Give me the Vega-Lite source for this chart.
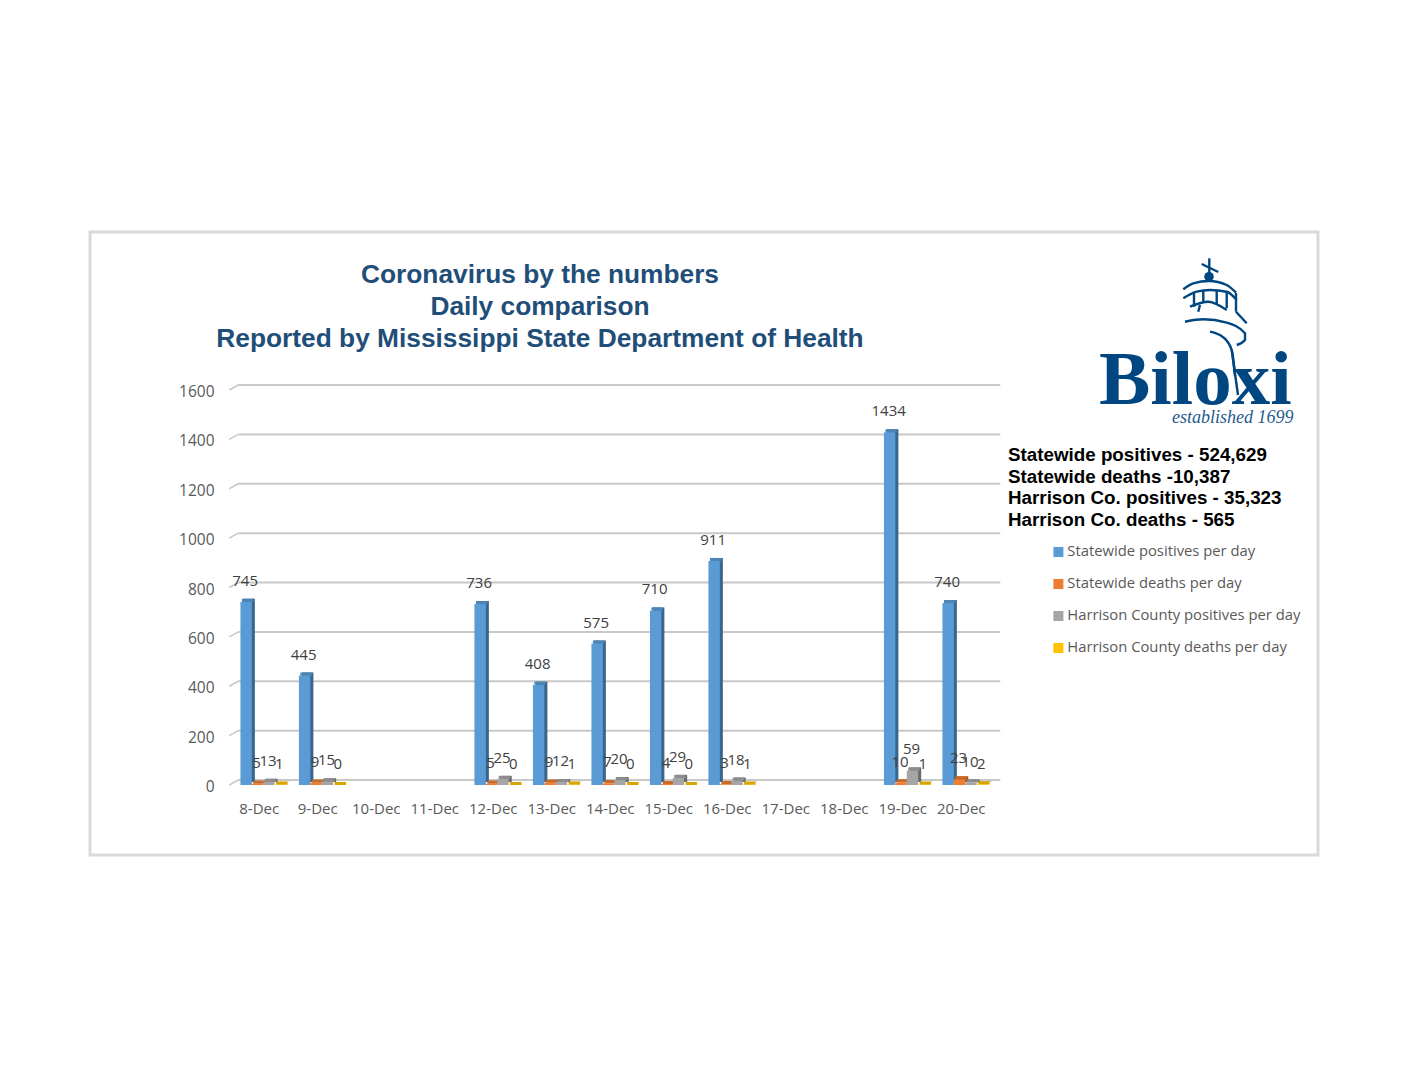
{
"$schema":"https://vega.github.io/schema/vega-lite/v6.json",
"width":1228,"height":623,
"autosize":"none",
"padding":{"left":90,"top":232,"right":90,"bottom":233},
"background":"white",
"config":{"view":{"stroke":"#D9D9D9","strokeWidth":3,"fill":"white"}},
"title":{"text":["Coronavirus by the numbers","Daily comparison","Reported by Mississippi State Department of Health"],"anchor":"middle","frame":"group","dx":-164,"offset":-120,"font":"Liberation Sans","fontSize":26.3,"fontWeight":"bold","color":"#1F4E79","lineHeight":32},
"datasets":{
"bars":[
{"date":"8-Dec","series":"Statewide positives per day","v":745},{"date":"8-Dec","series":"Statewide deaths per day","v":5},{"date":"8-Dec","series":"Harrison County positives per day","v":13},{"date":"8-Dec","series":"Harrison County deaths per day","v":1},
{"date":"9-Dec","series":"Statewide positives per day","v":445},{"date":"9-Dec","series":"Statewide deaths per day","v":9},{"date":"9-Dec","series":"Harrison County positives per day","v":15},{"date":"9-Dec","series":"Harrison County deaths per day","v":0},
{"date":"12-Dec","series":"Statewide positives per day","v":736},{"date":"12-Dec","series":"Statewide deaths per day","v":5},{"date":"12-Dec","series":"Harrison County positives per day","v":25},{"date":"12-Dec","series":"Harrison County deaths per day","v":0},
{"date":"13-Dec","series":"Statewide positives per day","v":408},{"date":"13-Dec","series":"Statewide deaths per day","v":9},{"date":"13-Dec","series":"Harrison County positives per day","v":12},{"date":"13-Dec","series":"Harrison County deaths per day","v":1},
{"date":"14-Dec","series":"Statewide positives per day","v":575},{"date":"14-Dec","series":"Statewide deaths per day","v":7},{"date":"14-Dec","series":"Harrison County positives per day","v":20},{"date":"14-Dec","series":"Harrison County deaths per day","v":0},
{"date":"15-Dec","series":"Statewide positives per day","v":710},{"date":"15-Dec","series":"Statewide deaths per day","v":4},{"date":"15-Dec","series":"Harrison County positives per day","v":29},{"date":"15-Dec","series":"Harrison County deaths per day","v":0},
{"date":"16-Dec","series":"Statewide positives per day","v":911},{"date":"16-Dec","series":"Statewide deaths per day","v":3},{"date":"16-Dec","series":"Harrison County positives per day","v":18},{"date":"16-Dec","series":"Harrison County deaths per day","v":1},
{"date":"19-Dec","series":"Statewide positives per day","v":1434},{"date":"19-Dec","series":"Statewide deaths per day","v":10},{"date":"19-Dec","series":"Harrison County positives per day","v":59},{"date":"19-Dec","series":"Harrison County deaths per day","v":1},
{"date":"20-Dec","series":"Statewide positives per day","v":740},{"date":"20-Dec","series":"Statewide deaths per day","v":23},{"date":"20-Dec","series":"Harrison County positives per day","v":10},{"date":"20-Dec","series":"Harrison County deaths per day","v":2}
],
"grid":[{"g":0,"a":"8-Dec","b":"20-Dec"},{"g":200,"a":"8-Dec","b":"20-Dec"},{"g":400,"a":"8-Dec","b":"20-Dec"},{"g":600,"a":"8-Dec","b":"20-Dec"},{"g":800,"a":"8-Dec","b":"20-Dec"},{"g":1000,"a":"8-Dec","b":"20-Dec"},{"g":1200,"a":"8-Dec","b":"20-Dec"},{"g":1400,"a":"8-Dec","b":"20-Dec"},{"g":1600,"a":"8-Dec","b":"20-Dec"}],
"logoLines":[
{"s":"cross","i":0,"lx":1209.3,"ly":258.3},{"s":"cross","i":1,"lx":1209.3,"ly":275},
{"s":"arrow","i":0,"lx":1201.7,"ly":264},{"s":"arrow","i":1,"lx":1218.3,"ly":272},
{"s":"dome","i":0,"lx":1183.3,"ly":289.3},{"s":"dome","i":1,"lx":1193.3,"ly":283.3},{"s":"dome","i":2,"lx":1209,"ly":281},{"s":"dome","i":3,"lx":1226.7,"ly":285},{"s":"dome","i":4,"lx":1236,"ly":292.7},
{"s":"arc2","i":0,"lx":1183.3,"ly":298.3},{"s":"arc2","i":1,"lx":1196.7,"ly":291.7},{"s":"arc2","i":2,"lx":1210,"ly":290},{"s":"arc2","i":3,"lx":1226.7,"ly":291.7},{"s":"arc2","i":4,"lx":1236.7,"ly":300},
{"s":"c1","i":0,"lx":1194,"ly":292},{"s":"c1","i":1,"lx":1194,"ly":306.7},
{"s":"c2","i":0,"lx":1203.3,"ly":291},{"s":"c2","i":1,"lx":1203.3,"ly":303},
{"s":"c3","i":0,"lx":1216.7,"ly":291},{"s":"c3","i":1,"lx":1216.7,"ly":305},
{"s":"c4","i":0,"lx":1226.7,"ly":292.7},{"s":"c4","i":1,"lx":1226.7,"ly":308.3},
{"s":"c5","i":0,"lx":1236,"ly":293},{"s":"c5","i":1,"lx":1236,"ly":311.7},
{"s":"roof","i":0,"lx":1190,"ly":306.7},{"s":"roof","i":1,"lx":1208.3,"ly":301.7},{"s":"roof","i":2,"lx":1226.7,"ly":310},
{"s":"door","i":0,"lx":1200,"ly":305},{"s":"door","i":1,"lx":1198.3,"ly":311.7},
{"s":"gal","i":0,"lx":1185,"ly":321.7},{"s":"gal","i":1,"lx":1203.3,"ly":319.3},{"s":"gal","i":2,"lx":1226.7,"ly":322.7},{"s":"gal","i":3,"lx":1245,"ly":333.3},{"s":"gal","i":4,"lx":1245,"ly":340},{"s":"gal","i":5,"lx":1236.7,"ly":345},
{"s":"edge","i":0,"lx":1236,"ly":311.7},{"s":"edge","i":1,"lx":1246.7,"ly":323.3},
{"s":"tower","i":0,"lx":1210,"ly":331.7},{"s":"tower","i":1,"lx":1223.3,"ly":337.3},{"s":"tower","i":2,"lx":1231.7,"ly":350},{"s":"tower","i":3,"lx":1235,"ly":376},
{"s":"tower2","i":0,"lx":1231.7,"ly":350},{"s":"tower2","i":1,"lx":1238,"ly":395}
]
},
"layer":[
{
"data":{"name":"grid"},
"encoding":{
"x":{"field":"a","type":"nominal","scale":{"domain":["8-Dec","9-Dec","10-Dec","11-Dec","12-Dec","13-Dec","14-Dec","15-Dec","16-Dec","17-Dec","18-Dec","19-Dec","20-Dec"],"range":[144,904.5],"paddingInner":0.21,"paddingOuter":0.105},"axis":null},
"y":{"field":"g","type":"quantitative","scale":{"domain":[0,1600],"range":[548,153],"nice":false,"zero":true},
"axis":{"title":null,"orient":"left","offset":-124,"domain":false,"ticks":false,"grid":false,"values":[0,200,400,600,800,1000,1200,1400,1600],"format":"d","labelPadding":0,"labelOffset":6.5,"labelFont":"Open Sans","labelFontSize":15.5,"labelColor":"#595959"}}
},
"layer":[
{"mark":{"type":"rule","color":"#C8C8C8","strokeWidth":2,"xOffset":-25,"x2Offset":35},"encoding":{"x2":{"field":"b"}}},
{"mark":{"type":"rule","color":"#C8C8C8","strokeWidth":1.5,"xOffset":-34,"x2Offset":-25,"yOffset":5,"y2Offset":0},"encoding":{"x2":{"field":"a"},"y2":{"field":"g"}}}
]
},
{
"data":{"name":"bars"},
"encoding":{
"x":{"field":"date","type":"nominal","scale":{"domain":["8-Dec","9-Dec","10-Dec","11-Dec","12-Dec","13-Dec","14-Dec","15-Dec","16-Dec","17-Dec","18-Dec","19-Dec","20-Dec"],"range":[147,907.5],"paddingInner":0.22,"paddingOuter":0.11},"axis":null},
"xOffset":{"field":"series","type":"nominal","scale":{"domain":["Statewide positives per day","Statewide deaths per day","Harrison County positives per day","Harrison County deaths per day"],"paddingInner":0,"paddingOuter":0}},
"y":{"field":"v","type":"quantitative","scale":{"domain":[0,1600],"range":[553,159.5],"nice":false,"zero":true},"axis":null}
},
"layer":[
{"mark":{"type":"bar","yOffset":-3,"y2Offset":-3},"encoding":{"y2":{"datum":0},"color":{"field":"series","type":"nominal","scale":{"domain":["Statewide positives per day","Statewide deaths per day","Harrison County positives per day","Harrison County deaths per day"],"range":["#5B9BD5","#ED7D31","#A5A5A5","#FFC000"]},
"legend":{"orient":"none","legendX":918,"legendY":214,"direction":"vertical","title":["Statewide positives - 524,629","Statewide deaths -10,387","Harrison Co. positives - 35,323","Harrison Co. deaths - 565"],"titleFont":"Liberation Sans","titleFontSize":18.8,"titleFontWeight":"bold","titleColor":"#000000","titleLineHeight":21.6,"titleLimit":400,"titlePadding":15,"labelFont":"Open Sans","labelFontSize":14.8,"labelColor":"#595959","labelLimit":400,"symbolType":"square","symbolSize":100,"symbolOffset":43,"symbolStrokeWidth":0,"rowPadding":16,"labelOffset":1.5}}}},
{"mark":{"type":"bar","yOffset":-3,"y2Offset":-3,"color":"#000000","opacity":0.35},"encoding":{"y2":{"datum":0}}}
]
},
{
"data":{"name":"bars"},
"encoding":{
"x":{"field":"date","type":"nominal","scale":{"domain":["8-Dec","9-Dec","10-Dec","11-Dec","12-Dec","13-Dec","14-Dec","15-Dec","16-Dec","17-Dec","18-Dec","19-Dec","20-Dec"],"range":[145.5,906],"paddingInner":0.22,"paddingOuter":0.11},"axis":null},
"xOffset":{"field":"series","type":"nominal","scale":{"domain":["Statewide positives per day","Statewide deaths per day","Harrison County positives per day","Harrison County deaths per day"],"paddingInner":0,"paddingOuter":0}},
"y":{"field":"v","type":"quantitative","scale":{"domain":[0,1600],"range":[553,159.5],"nice":false,"zero":true},"axis":null},
"y2":{"field":"v"}
},
"layer":[
{"mark":{"type":"bar","yOffset":-3,"y2Offset":0},"encoding":{"color":{"field":"series","type":"nominal"}}},
{"mark":{"type":"bar","yOffset":-3,"y2Offset":0,"color":"#000000","opacity":0.15}}
]
},
{
"data":{"name":"bars"},
"encoding":{
"x":{"field":"date","type":"nominal","scale":{"domain":["8-Dec","9-Dec","10-Dec","11-Dec","12-Dec","13-Dec","14-Dec","15-Dec","16-Dec","17-Dec","18-Dec","19-Dec","20-Dec"],"range":[144,904.5],"paddingInner":0.22,"paddingOuter":0.11},
"axis":{"title":null,"orient":"bottom","offset":-54,"domain":false,"ticks":false,"grid":false,"labelAngle":0,"labelPadding":0,"labelOffset":-4,"labelFont":"Open Sans","labelFontSize":15,"labelColor":"#595959","labelBaseline":"top"}},
"xOffset":{"field":"series","type":"nominal","scale":{"domain":["Statewide positives per day","Statewide deaths per day","Harrison County positives per day","Harrison County deaths per day"],"paddingInner":0,"paddingOuter":0}},
"y":{"field":"v","type":"quantitative","scale":{"domain":[0,1600],"range":[553,159.5],"nice":false,"zero":true},"axis":null}
},
"layer":[
{"mark":{"type":"bar"},"encoding":{"y2":{"datum":0},"color":{"field":"series","type":"nominal"}}},
{"mark":{"type":"text","font":"Open Sans","fontSize":15,"color":"#404040","dx":-1,"dy":-21,"baseline":"middle"},"encoding":{"text":{"field":"v","type":"quantitative"}}}
]
},
{
"data":{"name":"logoLines"},
"encoding":{
"x":{"field":"lx","type":"quantitative","scale":{"domain":[90,1318],"range":[0,1228],"nice":false,"zero":false},"axis":null},
"y":{"field":"ly","type":"quantitative","scale":{"domain":[232,855],"range":[0,623],"nice":false,"zero":false},"axis":null}
},
"layer":[
{"mark":{"type":"line","color":"#004680","strokeWidth":2.4,"interpolate":"monotone"},"encoding":{"detail":{"field":"s"},"order":{"field":"i"}}},
{"data":{"values":[{"lx":1209,"ly":276.7}]},"mark":{"type":"point","filled":true,"color":"#004680","size":90,"opacity":1}},
{"data":{"values":[{"lx":1099,"ly":404,"label":"Biloxi"}]},"mark":{"type":"text","font":"Liberation Serif","fontWeight":"bold","fontSize":77,"color":"#004680","align":"left","baseline":"alphabetic"},"encoding":{"text":{"field":"label"}}},
{"data":{"values":[{"lx":1172,"ly":423,"label":"established 1699"}]},"mark":{"type":"text","font":"Liberation Serif","fontStyle":"italic","fontSize":18,"color":"#1F5A8C","align":"left","baseline":"alphabetic"},"encoding":{"text":{"field":"label"}}}
]
}
],
"resolve":{"scale":{"x":"independent","y":"independent"},"axis":{"x":"independent","y":"independent"}}
}
